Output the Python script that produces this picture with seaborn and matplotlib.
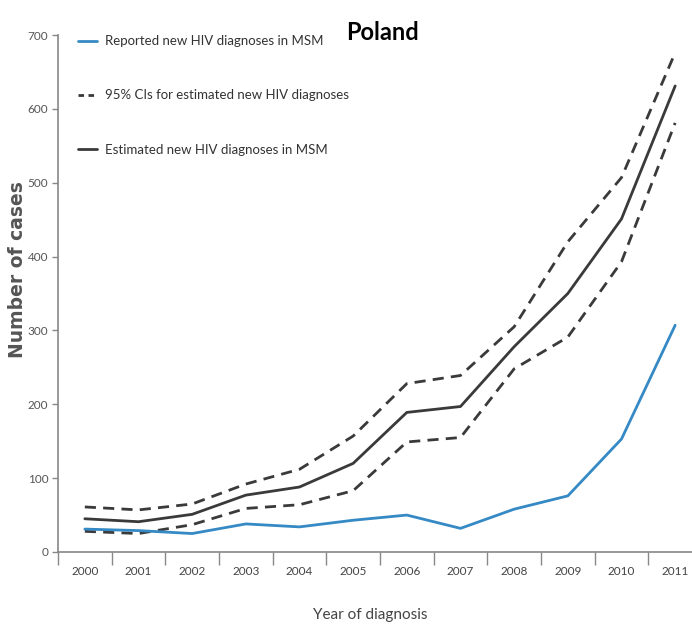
import matplotlib
matplotlib.use("Agg")
import matplotlib.pyplot as plt
import seaborn as sns
import pandas as pd
import numpy as np
from matplotlib.lines import Line2D

years = ["2000", "2001", "2002", "2003", "2004", "2005", "2006", "2007", "2008", "2009", "2010", "2011"]
reported = [31, 29, 25, 38, 34, 43, 50, 32, 58, 76, 153, 307]
estimated = [45, 41, 51, 77, 88, 120, 189, 197, 278, 350, 451, 631]
ci_upper = [61, 57, 65, 92, 112, 157, 228, 239, 305, 420, 507, 676]
ci_lower = [28, 25, 37, 59, 64, 83, 149, 155, 248, 291, 393, 581]
yticks = [0, 100, 200, 300, 400, 500, 600, 700]

sns.set_theme(style="white")
FONT = ["Lato", "Liberation Sans", "DejaVu Sans"]
plt.rcParams["font.family"] = FONT

df = pd.DataFrame({"year": years, "reported": reported, "estimated": estimated,
                   "upper": ci_upper, "lower": ci_lower})
df["pos"] = np.arange(len(years))

fig = plt.figure(figsize=(6.92, 6.33), dpi=100)
AXW = 644
ax = fig.add_axes([58 / 692, 81 / 633, AXW / 692, 517 / 633])

dark = "#3a3a3a"
blue = "#3589c4"
dash = (0, (4.0, 2.6))
sns.lineplot(data=df, x="pos", y="upper", ax=ax, color=dark, lw=2.0, linestyle=dash)
sns.lineplot(data=df, x="pos", y="lower", ax=ax, color=dark, lw=2.0, linestyle=dash)
sns.lineplot(data=df, x="pos", y="estimated", ax=ax, color=dark, lw=2.0)
sns.lineplot(data=df, x="pos", y="reported", ax=ax, color=blue, lw=2.0)

ax.set_xlim(-0.5, len(years) - 0.5)
ax.set_ylim(0, 700)
ax.set_yticks(yticks)
ax.set_yticklabels([str(v) for v in yticks], fontsize=8.5, color="#555555")
ax.set_xticks(df["pos"])
ax.set_xticklabels(years, fontsize=8.5, color="#444444")
ax.set_xticks(np.arange(-0.5, len(years), 1.0), minor=True)
ax.tick_params(axis="x", which="major", length=0, pad=10)
ax.tick_params(axis="x", which="minor", length=9, width=1, color="#888888", direction="out", bottom=True)
ax.tick_params(axis="y", which="major", length=4, width=1, color="#888888", direction="out", left=True, pad=3)

for s in ["top", "right"]:
    ax.spines[s].set_visible(False)
for s in ["left", "bottom"]:
    ax.spines[s].set_color("#888888")
    ax.spines[s].set_linewidth(1.2)

ax.set_xlabel("Year of diagnosis", fontsize=11, color="#444444")
ax.xaxis.set_label_coords((370 - 58) / AXW, -(615 - 552) / 517)
ax.xaxis.label.set_va("center")
ax.set_ylabel("Number of cases", fontsize=13.5, color="#555555", fontweight="bold",
              family=["DejaVu Sans"])
ax.yaxis.set_label_coords(-(58 - 18) / AXW, (552 - 270) / 517)
ax.yaxis.label.set_va("center")

fig.text(383 / 692, 1 - 32 / 633, "Poland", fontsize=17, fontweight="bold",
         ha="center", va="center", color="black")

handles = [Line2D([], [], color=blue, lw=2.0),
           Line2D([], [], color=dark, lw=2.0, linestyle=(0, (2.0, 1.6))),
           Line2D([], [], color=dark, lw=2.0)]
labels = ["Reported new HIV diagnoses in MSM",
          "95% CIs for estimated new HIV diagnoses",
          "Estimated new HIV diagnoses in MSM"]
leg = ax.legend(handles, labels, loc="upper left", bbox_to_anchor=(0.015, 1.02),
                frameon=False, fontsize=9.5, handlelength=1.45, handletextpad=0.6,
                labelspacing=3.2, borderpad=0.3)
for t in leg.get_texts():
    t.set_color("#333333")

fig.savefig("out.png", dpi=100)
